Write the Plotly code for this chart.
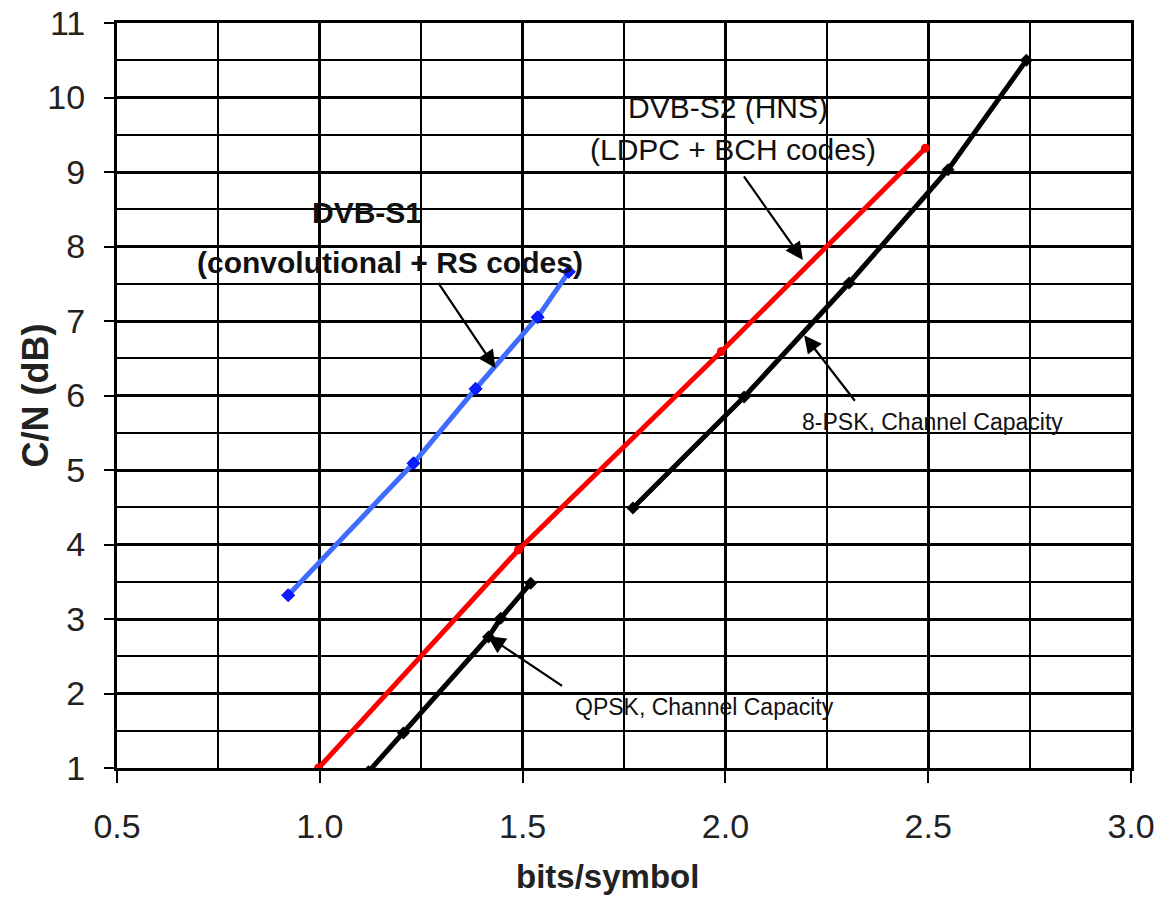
import plotly.graph_objects as go

# DVB-S1 (convolutional + RS codes)
s1_x = [0.922, 1.231, 1.384, 1.537, 1.614]
s1_y = [3.32, 5.09, 6.09, 7.05, 7.66]
# DVB-S2 (LDPC + BCH codes)
s2_x = [0.997, 1.49, 1.99, 2.493]
s2_y = [1.0, 3.93, 6.59, 9.32]
# QPSK channel capacity
qpsk_x = [1.120, 1.206, 1.416, 1.446, 1.520]
qpsk_y = [0.95, 1.47, 2.76, 3.01, 3.48]
# 8-PSK channel capacity
psk8_x = [1.772, 2.046, 2.305, 2.549, 2.742]
psk8_y = [4.49, 5.98, 7.51, 9.03, 10.50]

x_ticks = [0.5, 1.0, 1.5, 2.0, 2.5, 3.0]
x_tick_labels = ["0.5", "1.0", "1.5", "2.0", "2.5", "3.0"]
y_ticks = list(range(1, 12))

FONT = "Arial, Liberation Sans, sans-serif"

fig = go.Figure()
fig.add_trace(go.Scatter(x=s1_x, y=s1_y, mode="lines+markers",
                         line=dict(color="#3d6cff", width=5),
                         marker=dict(symbol="diamond", size=10, color="#0a1eff",
                                     line=dict(color="#0000ff", width=1))))
fig.add_trace(go.Scatter(x=s2_x, y=s2_y, mode="lines+markers",
                         line=dict(color="#ff0000", width=5),
                         marker=dict(symbol="circle", size=9, color="#ff0000")))
fig.add_trace(go.Scatter(x=qpsk_x, y=qpsk_y, mode="lines+markers",
                         line=dict(color="#000000", width=5),
                         marker=dict(symbol="diamond", size=10, color="#000000")))
fig.add_trace(go.Scatter(x=psk8_x, y=psk8_y, mode="lines+markers",
                         line=dict(color="#000000", width=5),
                         marker=dict(symbol="diamond", size=10, color="#000000")))

annotations = []
# arrows: (tip_x, tip_y, tail_x, tail_y)
arrows = [
    (1.433, 6.37, 1.290, 7.53),
    (2.191, 7.82, 2.043, 8.96),
    (2.194, 6.81, 2.322, 5.91),
    (1.414, 2.77, 1.601, 2.09),
]
for tx, ty, axx, ayy in arrows:
    annotations.append(dict(x=tx, y=ty, ax=axx, ay=ayy, xref="x", yref="y",
                            axref="x", ayref="y", text="", showarrow=True,
                            arrowhead=2, arrowsize=1.6, arrowwidth=2.2,
                            arrowcolor="#000000", standoff=0))

texts = [
    (1.117, 8.45, "<b>DVB-S1</b>", 30),
    (1.174, 7.79, "<b>(convolutional + RS codes)</b>", 30),
    (2.006, 9.87, "DVB-S2 (HNS)", 30),
    (2.019, 9.30, "(LDPC + BCH codes)", 30),
    (2.510, 5.64, "8-PSK, Channel Capacity", 23),
    (1.949, 1.82, "QPSK, Channel Capacity", 23),
]
for x, y, t, s in texts:
    annotations.append(dict(x=x, y=y, xref="x", yref="y", text=t, showarrow=False,
                            font=dict(family=FONT, size=s, color="#111111"),
                            xanchor="center", yanchor="middle"))

# axis titles
annotations.append(dict(x=0.4842, y=-0.1463, xref="paper", yref="paper",
                        text="<b>bits/symbol</b>", showarrow=False,
                        font=dict(family=FONT, size=33, color="#222222"),
                        xanchor="center", yanchor="middle"))
annotations.append(dict(x=-0.0799, y=0.5, xref="paper", yref="paper",
                        text="<b>C/N (dB)</b>", showarrow=False, textangle=-90,
                        font=dict(family=FONT, size=36, color="#222222"),
                        xanchor="center", yanchor="middle"))

fig.update_layout(
    width=1159, height=898,
    margin=dict(l=117, r=28, t=23, b=130, autoexpand=False),
    plot_bgcolor="white", paper_bgcolor="white",
    showlegend=False,
    font=dict(family=FONT, color="#222222"),
    annotations=annotations,
    xaxis=dict(range=[0.5, 3.0], tickvals=x_ticks, ticktext=x_tick_labels,
               ticks="outside", ticklen=12, tickwidth=2, tickcolor="black",
               showgrid=True, gridcolor="black", gridwidth=3,
               minor=dict(dtick=0.25, tick0=0.5, showgrid=True, gridcolor="black",
                          gridwidth=1.6, ticklen=0),
               showline=True, linecolor="black", linewidth=3, mirror=True,
               zeroline=False, automargin=False,
               tickfont=dict(size=34, family=FONT, color="#222222"),
               ticklabelstandoff=14),
    yaxis=dict(range=[1, 11], tickvals=y_ticks,
               ticks="outside", ticklen=10, tickwidth=2, tickcolor="black",
               showgrid=True, gridcolor="black", gridwidth=3,
               minor=dict(dtick=0.5, tick0=1, showgrid=True, gridcolor="black",
                          gridwidth=1.6, ticklen=0),
               showline=True, linecolor="black", linewidth=3, mirror=True,
               zeroline=False, automargin=False,
               tickfont=dict(size=34, family=FONT, color="#222222"),
               ticklabelstandoff=12),
)

fig.write_html("out.html")
